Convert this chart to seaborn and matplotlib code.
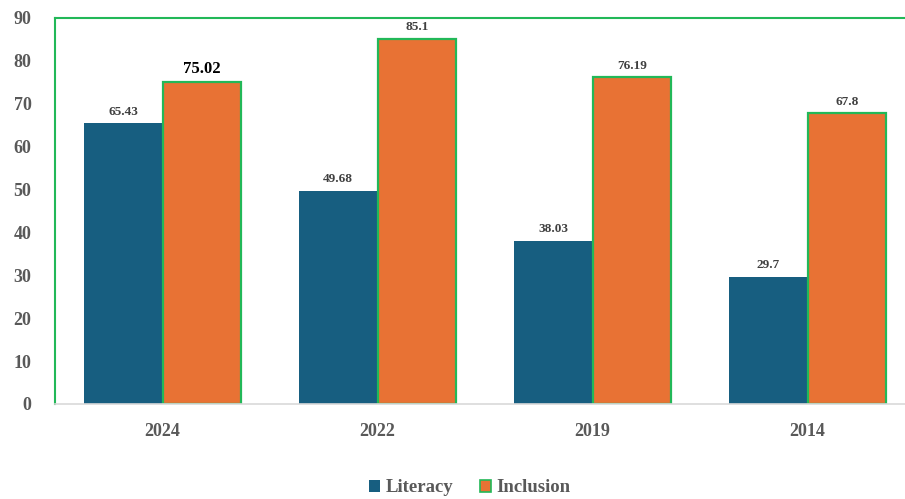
import matplotlib
matplotlib.use("Agg")
import matplotlib.pyplot as plt
import seaborn as sns
import pandas as pd
from matplotlib.patches import Patch

years = ["2024", "2022", "2019", "2014"]
literacy = [65.43, 49.68, 38.03, 29.7]
inclusion = [75.02, 85.1, 76.19, 67.8]
series_names = ["Literacy", "Inclusion"]
y_ticks = [0, 10, 20, 30, 40, 50, 60, 70, 80, 90]

df = pd.DataFrame({
    "Year": years * 2,
    "Value": literacy + inclusion,
    "Series": [series_names[0]] * len(years) + [series_names[1]] * len(years),
})

blue = "#175E80"
orange = "#E87234"
green = "#22B858"
gray_text = "#595959"

sns.set_theme(style="white")
plt.rcParams["font.family"] = ["Liberation Serif", "DejaVu Serif"]

fig = plt.figure(figsize=(9.05, 4.99), dpi=100)
ax = fig.add_axes([55 / 905, 95 / 499, 860 / 905, 386 / 499])

sns.barplot(data=df, x="Year", y="Value", hue="Series", order=years,
            hue_order=series_names, palette=[blue, orange], width=0.73,
            saturation=1, ax=ax, legend=False)

n = len(years)
for i, bar in enumerate(ax.patches[:2 * n]):
    if i >= n:
        bar.set_edgecolor(green)
        bar.set_linewidth(1.6)
    else:
        bar.set_edgecolor("none")

# value labels
for i, bar in enumerate(ax.patches[:2 * n]):
    val = df["Value"].iloc[i]
    cx = bar.get_x() + bar.get_width() / 2
    label = f"{val:g}"
    if i == n:  # 2024 inclusion label is emphasised
        ax.text(cx, val + 1.2, label, ha="center", va="bottom",
                fontsize=12, fontweight="bold", color="black")
    else:
        ax.text(cx, val + 1.3, label, ha="center", va="bottom",
                fontsize=9.5, fontweight="bold", color="#404040")

ax.set_ylim(0, 90)
ax.set_xlim(-0.5, n - 0.5)
ax.set_yticks(y_ticks)
ax.set_yticklabels([str(t) for t in y_ticks], fontsize=13, fontweight="bold",
                   color=gray_text)
ax.set_xticks(range(n))
ax.set_xticklabels(years, fontsize=13, fontweight="bold", color=gray_text)
ax.tick_params(axis="y", length=0, pad=17)
ax.tick_params(axis="x", length=0, pad=14)
ax.set_xlabel("")
ax.set_ylabel("")

for side in ["left", "top"]:
    ax.spines[side].set_color(green)
    ax.spines[side].set_linewidth(1.5)
ax.spines["right"].set_visible(False)
ax.spines["bottom"].set_color("#D9D9D9")
ax.spines["bottom"].set_linewidth(1.2)

handles = [Patch(facecolor=blue, edgecolor="none"),
           Patch(facecolor=orange, edgecolor=green, linewidth=1.2)]
fig.legend(handles, series_names, loc="center", bbox_to_anchor=(470 / 905, 1 - 488 / 499),
           ncol=2, frameon=False, handlelength=0.6, handleheight=0.6,
           handletextpad=0.3, columnspacing=1.4,
           prop={"family": "Liberation Serif", "weight": "bold", "size": 13.5},
           labelcolor=gray_text)

fig.savefig("out.png", dpi=100)
